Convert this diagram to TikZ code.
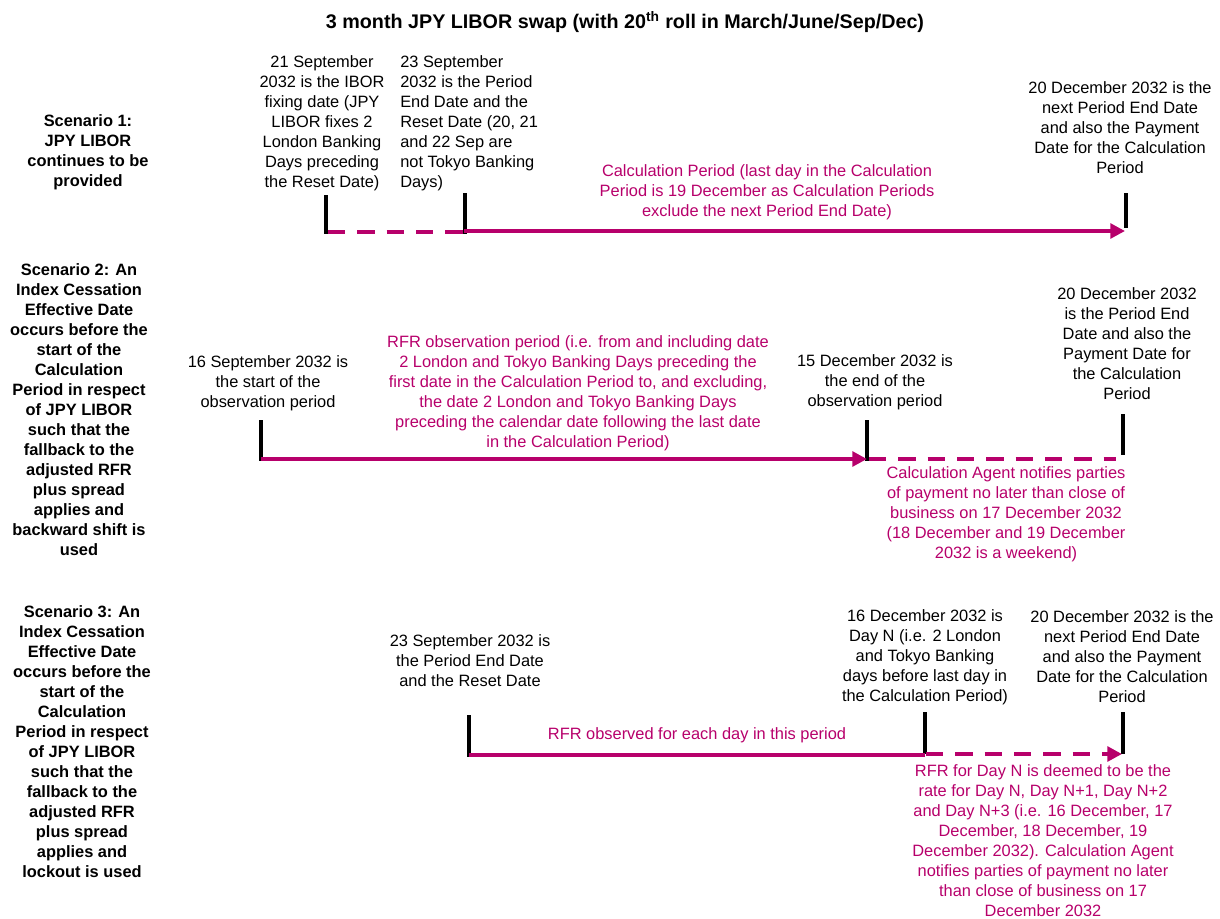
\documentclass[tikz,border=0pt]{standalone}
\usepackage{fontspec}
\setmainfont{Liberation Sans}
\usetikzlibrary{arrows.meta}
\usetikzlibrary{positioning}
\definecolor{rfrpink}{RGB}{183,0,107}

\begin{document}
\begin{tikzpicture}
[x=0.75pt,y=-0.75pt,>={Triangle[length=11pt,width=11pt]},
 every node/.style={align=center,inner sep=0pt,font=\fontsize{12.3}{15}\selectfont},
 scen/.style={font=\fontsize{12.3}{15}\selectfont\bfseries},
 pinktext/.style={text=rfrpink},
 tick/.style={line width=2.8pt},
 period/.style={rfrpink,line width=2.8pt},
 gap/.style={period,dash pattern=on 13pt off 9pt}]

\useasboundingbox (0,0) rectangle (1220,918);

\node[scen,font=\fontsize{14.8}{17}\selectfont\bfseries] (title) at (625,22) {3 month JPY LIBOR swap (with 20\textsuperscript{th} roll in March/June/Sep/Dec)};

% scenario 1
\node[scen] (s1) at (88,152) {Scenario 1:\\JPY LIBOR\\continues to be\\provided};
\node (fix) at (322,123) {21 September\\2032 is the IBOR\\fixing date (JPY\\LIBOR fixes 2\\London Banking\\Days preceding\\the Reset Date)};
\node[align=left,anchor=west] (reset) at (400,123) {23 September\\2032 is the Period\\End Date and the\\Reset Date (20, 21\\and 22 Sep are\\not Tokyo Banking\\Days)};
\node (next) at (1120,128) {20 December 2032 is the\\next Period End Date\\and also the Payment\\Date for the Calculation\\Period};
\node[pinktext] (calc) at (767,192) {Calculation Period (last day in the Calculation\\Period is 19 December as Calculation Periods\\exclude the next Period End Date)};

\coordinate (fixtop) at (326,195);
\coordinate (fixbot) at (326,234);
\coordinate (resettop) at (465,193);
\coordinate (resetbot) at (465,234);
\coordinate (nexttop) at (1126,193);
\coordinate (nextbot) at (1126,228);
\draw[tick] (fixtop) -- (fixbot);
\draw[tick] (resettop) -- (resetbot);
\draw[tick] (nexttop) -- (nextbot);
\draw[gap] (328,232) -- (464,232);
\draw[period,->] (464,231) -- (1125,231);

% scenario 2
\node[scen] (s2) at (79,410) {Scenario 2: An\\Index Cessation\\Effective Date\\occurs before the\\start of the\\Calculation\\Period in respect\\of JPY LIBOR\\such that the\\fallback to the\\adjusted RFR\\plus spread\\applies and\\backward shift is\\used};
\node (obsstart) at (268,383) {16 September 2032 is\\the start of the\\observation period};
\node[pinktext] (obsperiod) at (578,393) {RFR observation period (i.e. from and including date\\2 London and Tokyo Banking Days preceding the\\first date in the Calculation Period to, and excluding,\\the date 2 London and Tokyo Banking Days\\preceding the calendar date following the last date\\in the Calculation Period)};
\node (obsend) at (875,382) {15 December 2032 is\\the end of the\\observation period};
\node (pay2) at (1127,344) {20 December 2032\\is the Period End\\Date and also the\\Payment Date for\\the Calculation\\Period};
\node[pinktext] (notify2) at (1006,514) {Calculation Agent notifies parties\\of payment no later than close of\\business on 17 December 2032\\(18 December and 19 December\\2032 is a weekend)};

\coordinate (starttop) at (261,420);
\coordinate (startbot) at (261,461);
\coordinate (endtop) at (867,420);
\coordinate (endbot) at (867,461);
\coordinate (pay2top) at (1123,414);
\coordinate (pay2bot) at (1123,455);
\draw[tick] (starttop) -- (startbot);
\draw[tick] (endtop) -- (endbot);
\draw[tick] (pay2top) -- (pay2bot);
\draw[period,->] (261,459) -- (867,459);
\draw[gap] (869,459) -- (1116,459);

% scenario 3
\node[scen] (s3) at (82,742) {Scenario 3: An\\Index Cessation\\Effective Date\\occurs before the\\start of the\\Calculation\\Period in respect\\of JPY LIBOR\\such that the\\fallback to the\\adjusted RFR\\plus spread\\applies and\\lockout is used};
\node (reset3) at (470,661) {23 September 2032 is\\the Period End Date\\and the Reset Date};
\node (dayn) at (925,657) {16 December 2032 is\\Day N (i.e. 2 London\\and Tokyo Banking\\days before last day in\\the Calculation Period)};
\node (pay3) at (1122,657) {20 December 2032 is the\\next Period End Date\\and also the Payment\\Date for the Calculation\\Period};
\node[pinktext] (observed) at (697,735) {RFR observed for each day in this period};
\node[pinktext] (deemed) at (1043,841) {RFR for Day N is deemed to be the\\rate for Day N, Day N+1, Day N+2\\and Day N+3 (i.e. 16 December, 17\\December, 18 December, 19\\December 2032). Calculation Agent\\notifies parties of payment no later\\than close of business on 17\\December 2032};

\coordinate (reset3top) at (469,715);
\coordinate (reset3bot) at (469,757);
\coordinate (dayntop) at (925,712);
\coordinate (daynbot) at (925,754);
\coordinate (pay3top) at (1123,712);
\coordinate (pay3bot) at (1123,754);
\draw[tick] (reset3top) -- (reset3bot);
\draw[tick] (dayntop) -- (daynbot);
\draw[tick] (pay3top) -- (pay3bot);
\draw[period] (469,755) -- (925,755);
\draw[gap,->] (926,754) -- (1122,754);
\end{tikzpicture}
\end{document}
